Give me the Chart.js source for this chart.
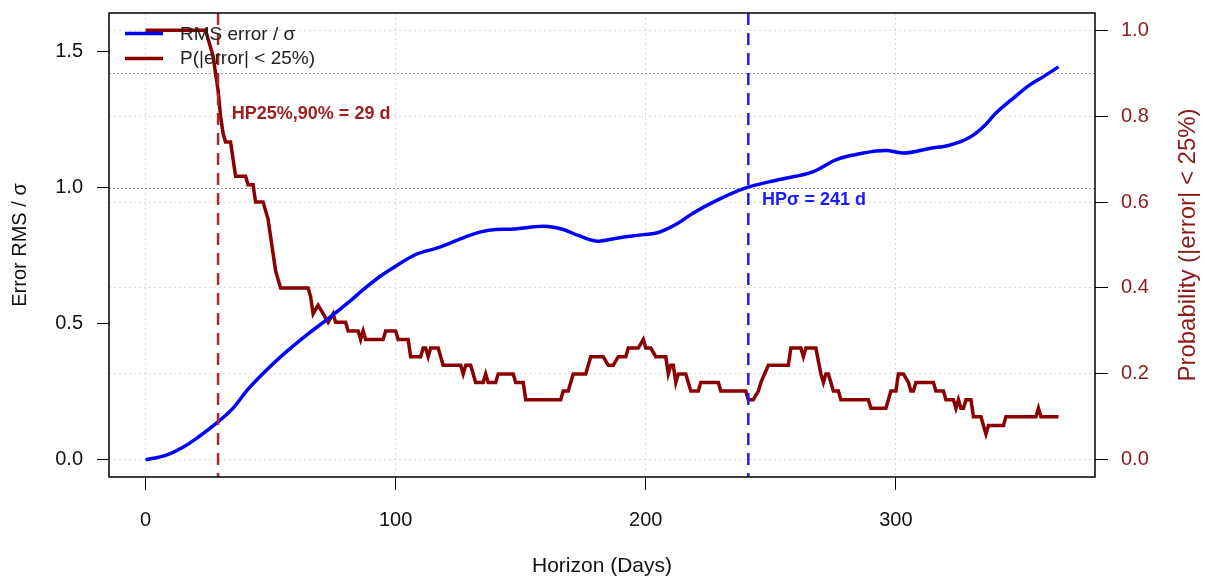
<!DOCTYPE html>
<html>
<head>
<meta charset="utf-8">
<script src="https://cdn.jsdelivr.net/npm/chart.js@4.4.1/dist/chart.umd.min.js"></script>
<style>
  html, body { margin: 0; padding: 0; background: #fff; }
  #caixa { width: 1205px; height: 579px; }
</style>
</head>
<body>
<div id="caixa"><canvas id="grafico" width="1205" height="579"></canvas></div>
<script>
// RMS error / sigma (left axis), knots
const rmsDias = [0, 8, 16, 21, 28, 35, 41, 48, 56, 64, 73, 81, 88, 94, 100, 108, 117, 122, 128, 134, 140, 146, 159, 167, 173, 181, 189, 199, 205, 213, 219, 229, 240, 253, 267, 276, 287, 296, 303, 314, 321, 329, 335, 340, 347, 353, 359, 365]
const rmsValores = [0, 0.016, 0.052, 0.083, 0.132, 0.19, 0.26, 0.327, 0.395, 0.456, 0.519, 0.578, 0.633, 0.676, 0.712, 0.755, 0.78, 0.798, 0.82, 0.838, 0.847, 0.848, 0.859, 0.847, 0.825, 0.804, 0.816, 0.828, 0.836, 0.871, 0.908, 0.957, 1.0, 1.03, 1.06, 1.103, 1.128, 1.137, 1.128, 1.146, 1.156, 1.183, 1.225, 1.275, 1.33, 1.375, 1.409, 1.445]

// P(|error| < 25%) (right axis)
const probDias = [0, 24, 25, 26, 27, 28, 29, 30, 31, 32, 34, 35, 36, 40, 41, 43, 44, 47, 48, 49, 50, 51, 52, 53, 54, 65, 66, 67, 69, 71, 73, 75, 76, 80, 81, 85, 86, 87, 88, 95, 96, 100, 101, 105, 106, 110, 111, 112, 113, 114, 117, 118, 119, 126, 127, 128, 130, 131, 132, 135, 136, 137, 140, 141, 147, 148, 151, 152, 166, 167, 169, 171, 176, 178, 183, 185, 187, 189, 192, 193, 197, 199, 200, 202, 204, 208, 209, 210, 211, 212, 213, 216, 218, 221, 222, 229, 230, 240, 241, 243, 245, 246, 249, 257, 258, 262, 263, 264, 268, 270, 271, 272, 273, 275, 277, 278, 289, 290, 296, 298, 300, 301, 303, 305, 306, 307, 308, 315, 316, 319, 320, 323, 324, 325, 326, 327, 328, 330, 331, 334, 335, 336, 337, 343, 344, 356, 357, 358, 365]
const probValores = [1.0, 1.0, 0.98, 0.96, 0.94, 0.90, 0.86, 0.80, 0.76, 0.74, 0.74, 0.70, 0.66, 0.66, 0.64, 0.64, 0.60, 0.60, 0.58, 0.56, 0.52, 0.48, 0.44, 0.42, 0.40, 0.40, 0.38, 0.34, 0.36, 0.34, 0.32, 0.34, 0.32, 0.32, 0.30, 0.30, 0.28, 0.30, 0.28, 0.28, 0.30, 0.30, 0.28, 0.28, 0.24, 0.24, 0.26, 0.26, 0.24, 0.26, 0.26, 0.24, 0.22, 0.22, 0.20, 0.22, 0.22, 0.20, 0.18, 0.18, 0.20, 0.18, 0.18, 0.20, 0.20, 0.18, 0.18, 0.14, 0.14, 0.16, 0.16, 0.20, 0.20, 0.24, 0.24, 0.22, 0.22, 0.24, 0.24, 0.26, 0.26, 0.28, 0.26, 0.26, 0.24, 0.24, 0.20, 0.22, 0.22, 0.18, 0.20, 0.20, 0.16, 0.16, 0.18, 0.18, 0.16, 0.16, 0.14, 0.14, 0.16, 0.18, 0.22, 0.22, 0.26, 0.26, 0.24, 0.26, 0.26, 0.20, 0.18, 0.20, 0.20, 0.16, 0.16, 0.14, 0.14, 0.12, 0.12, 0.16, 0.16, 0.20, 0.20, 0.18, 0.16, 0.16, 0.18, 0.18, 0.16, 0.16, 0.14, 0.14, 0.12, 0.14, 0.12, 0.12, 0.14, 0.14, 0.10, 0.10, 0.08, 0.06, 0.08, 0.08, 0.10, 0.10, 0.12, 0.10, 0.10]

const ticksX = [0, 100, 200, 300]
const ticksRms = [0, 0.5, 1.0, 1.5]
const ticksProb = [0, 0.2, 0.4, 0.6, 0.8, 1.0]

const hpProb = 29     // HP25%,90%
const hpSigma = 241   // HPσ
const refRms = 1.0
const refProb = 0.9

const vermelho = '#8B0000'
const vermelhoTexto = '#8B1A1A'
const fonte = '"Liberation Sans", Arial, Helvetica, sans-serif'

Chart.defaults.font.family = fonte
Chart.defaults.font.size = 20
Chart.defaults.color = '#111'

function pontos(xs, ys) {
  return xs.map((d, i) => ({ x: d, y: ys[i] }))
}

// reference lines, dashed horizons, box, legend, labels
const extras = {
  id: 'extras',
  beforeDatasetsDraw(chart) {
    const { ctx, chartArea: a, scales } = chart
    ctx.save()
    ctx.strokeStyle = '#9a9a9a'
    ctx.lineWidth = 1
    ctx.setLineDash([2, 2])
    let y = Math.round(scales.y.getPixelForValue(refRms)) + 0.5
    ctx.beginPath(); ctx.moveTo(a.left, y); ctx.lineTo(a.right, y); ctx.stroke()
    y = Math.round(scales.y2.getPixelForValue(refProb)) + 0.5
    ctx.beginPath(); ctx.moveTo(a.left, y); ctx.lineTo(a.right, y); ctx.stroke()
    ctx.restore()
  },
  afterDatasetsDraw(chart) {
    const { ctx, chartArea: a, scales } = chart
    ctx.save()
    ctx.lineWidth = 2.5
    ctx.setLineDash([12, 8])
    let x = scales.x.getPixelForValue(hpProb)
    ctx.strokeStyle = '#A52A2A'
    ctx.beginPath(); ctx.moveTo(x, a.top); ctx.lineTo(x, a.bottom); ctx.stroke()
    x = scales.x.getPixelForValue(hpSigma)
    ctx.strokeStyle = '#1a1aff'
    ctx.beginPath(); ctx.moveTo(x, a.top); ctx.lineTo(x, a.bottom); ctx.stroke()
    ctx.setLineDash([])

    ctx.font = 'bold 18px ' + fonte
    ctx.textAlign = 'left'
    ctx.textBaseline = 'middle'
    ctx.fillStyle = '#9B1F1F'
    ctx.fillText('HP25%,90% = ' + hpProb + ' d', scales.x.getPixelForValue(hpProb + 5.5), scales.y2.getPixelForValue(0.806))
    ctx.fillStyle = '#1a1aff'
    ctx.fillText('HPσ = ' + hpSigma + ' d', scales.x.getPixelForValue(hpSigma + 5.5), scales.y.getPixelForValue(0.957))
    ctx.restore()
  },
  afterDraw(chart) {
    const { ctx, chartArea: a } = chart
    ctx.save()
    ctx.strokeStyle = '#000'
    ctx.lineWidth = 1.5
    ctx.strokeRect(a.left, a.top, a.right - a.left, a.bottom - a.top)

    // legenda
    ctx.lineWidth = 3.5
    ctx.strokeStyle = 'blue'
    ctx.beginPath(); ctx.moveTo(a.left + 16, a.top + 20.5); ctx.lineTo(a.left + 54, a.top + 20.5); ctx.stroke()
    ctx.strokeStyle = vermelho
    ctx.beginPath(); ctx.moveTo(a.left + 16, a.top + 45.5); ctx.lineTo(a.left + 54, a.top + 45.5); ctx.stroke()
    ctx.fillStyle = '#222'
    ctx.font = '19px ' + fonte
    ctx.textAlign = 'left'
    ctx.textBaseline = 'middle'
    ctx.fillText('RMS error / σ', a.left + 71, a.top + 22)
    ctx.fillText('P(|error| < 25%)', a.left + 71, a.top + 46)

    // titulo do eixo direito, lido de baixo para cima
    ctx.translate(1188, (a.top + a.bottom) / 2)
    ctx.rotate(-Math.PI / 2)
    ctx.fillStyle = vermelhoTexto
    ctx.font = '24px ' + fonte
    ctx.textAlign = 'center'
    ctx.fillText('Probability (|error| < 25%)', 0, 0)
    ctx.restore()
  }
}

const semPadding = s => { s.paddingTop = 0; s.paddingBottom = 0 }

const grafico = new Chart(document.getElementById('grafico'), {
  type: 'line',
  data: {
    datasets: [{
      label: 'RMS error / σ',
      data: pontos(rmsDias, rmsValores),
      yAxisID: 'y',
      borderColor: 'blue',
      borderWidth: 3.5,
      cubicInterpolationMode: 'monotone',
      pointRadius: 0
    }, {
      label: 'P(|error| < 25%)',
      data: pontos(probDias, probValores),
      yAxisID: 'y2',
      borderColor: vermelho,
      borderWidth: 3.5,
      tension: 0,
      pointRadius: 0
    }]
  },
  options: {
    responsive: false,
    animation: false,
    devicePixelRatio: 1,
    layout: { padding: { top: 13, left: 0, right: 0, bottom: 0 } },
    plugins: { legend: { display: false }, tooltip: { enabled: false } },
    scales: {
      x: {
        type: 'linear',
        min: -14.6,
        max: 379.6,
        afterBuildTicks: s => { s.ticks = ticksX.map(v => ({ value: v })) },
        afterFit: s => { s.height = 102; s.paddingLeft = 0; s.paddingRight = 0 },
        grid: { color: '#dcdcdc', lineWidth: 1, tickLength: 13, tickColor: '#000', tickWidth: 1, tickBorderDash: [] },
        border: { display: false, dash: [2, 3] },
        ticks: { color: '#111', padding: 18, maxRotation: 0, autoSkip: false },
        title: { display: true, text: 'Horizon (Days)', color: '#111', font: { size: 21 }, padding: { top: 0, bottom: 0 } }
      },
      y: {
        position: 'left',
        min: -0.0632,
        max: 1.643,
        afterBuildTicks: s => { s.ticks = ticksRms.map(v => ({ value: v })) },
        afterFit: s => { s.width = 109; semPadding(s) },
        grid: { drawOnChartArea: false, tickLength: 12, tickColor: '#000', tickWidth: 1 },
        border: { display: false },
        ticks: { color: '#111', padding: 14, autoSkip: false, callback: v => v.toFixed(1) },
        title: { display: true, text: 'Error RMS / σ', color: '#111', padding: { top: 8, bottom: 0 } }
      },
      y2: {
        position: 'right',
        min: -0.04,
        max: 1.04,
        afterBuildTicks: s => { s.ticks = ticksProb.map(v => ({ value: v })) },
        afterFit: s => { s.width = 110; semPadding(s) },
        grid: { drawOnChartArea: true, color: '#dcdcdc', lineWidth: 1, tickLength: 13, tickColor: '#000', tickWidth: 1, tickBorderDash: [] },
        border: { display: false, dash: [2, 3] },
        ticks: { color: vermelhoTexto, padding: 13, autoSkip: false, callback: v => v.toFixed(1) }
      }
    }
  },
  plugins: [extras]
})
</script>
</body>
</html>
